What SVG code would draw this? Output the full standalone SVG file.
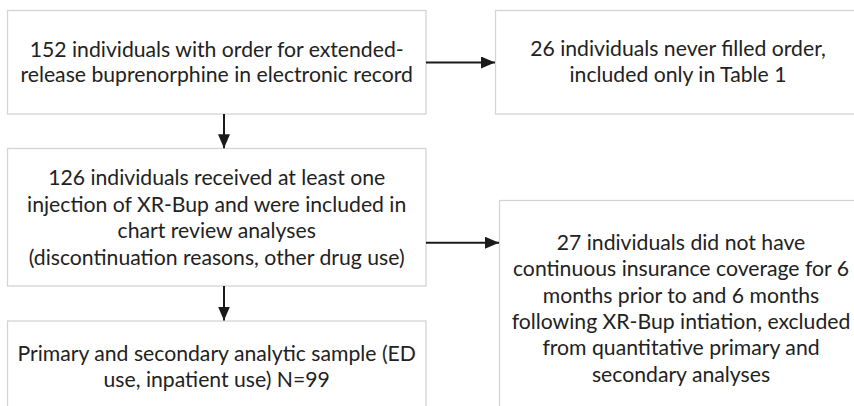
<svg xmlns="http://www.w3.org/2000/svg" width="854" height="406" viewBox="0 0 854 406">
<defs>
<style>
.box{fill:#ffffff;stroke:#d4d4d4;stroke-width:1.3}
.t{font-family:Lato,"Liberation Sans",sans-serif;font-size:21.2px;fill:#222222;text-anchor:middle}
.c{stroke:#1a1a1a;stroke-width:2;fill:none}
</style>
<marker id="ah" markerWidth="7" markerHeight="6" refX="7" refY="3" orient="auto" markerUnits="strokeWidth">
<path d="M0,0 L7,3 L0,6 Z" fill="#1a1a1a"/>
</marker>
</defs>
<rect width="854" height="406" fill="#ffffff"/>
<g id="n1">
<rect class="box" x="7.5" y="10.5" width="418.5" height="103.5"/>
<text class="t" x="216.7" y="56.7">152 individuals with order for extended-</text>
<text class="t" x="216.7" y="82">release buprenorphine in electronic record</text>
</g>
<g id="n2">
<rect class="box" x="495.5" y="10.5" width="366" height="103.5"/>
<text class="t" x="678" y="56">26 individuals never filled order,</text>
<text class="t" x="678" y="82">included only in Table 1</text>
</g>
<g id="n3">
<rect class="box" x="7.5" y="148.5" width="418.5" height="137.5"/>
<text class="t" x="216.7" y="185">126 individuals received at least one</text>
<text class="t" x="216.7" y="211.5">injection of XR-Bup and were included in</text>
<text class="t" x="216.7" y="238">chart review analyses</text>
<text class="t" x="216.7" y="264.5">(discontinuation reasons, other drug use)</text>
</g>
<g id="n4">
<rect class="box" x="499.5" y="200.5" width="364" height="220"/>
<text class="t" x="681" y="250">27 individuals did not have</text>
<text class="t" x="681" y="276.3">continuous insurance coverage for 6</text>
<text class="t" x="681" y="302.7">months prior to and 6 months</text>
<text class="t" x="681" y="329">following XR-Bup intiation, excluded</text>
<text class="t" x="681" y="355.3">from quantitative primary and</text>
<text class="t" x="681" y="381.7">secondary analyses</text>
</g>
<g id="n5">
<rect class="box" x="7.5" y="321" width="418.5" height="100"/>
<text class="t" x="216.7" y="360.7">Primary and secondary analytic sample (ED</text>
<text class="t" x="216.7" y="387">use, inpatient use) N=99</text>
</g>
<g id="connectors">
<line class="c" x1="426" y1="62.5" x2="495" y2="62.5" marker-end="url(#ah)"/>
<line class="c" x1="224" y1="114" x2="224" y2="148.3" marker-end="url(#ah)"/>
<line class="c" x1="426" y1="242.7" x2="499" y2="242.7" marker-end="url(#ah)"/>
<line class="c" x1="224" y1="286" x2="224" y2="320.5" marker-end="url(#ah)"/>
</g>
</svg>
